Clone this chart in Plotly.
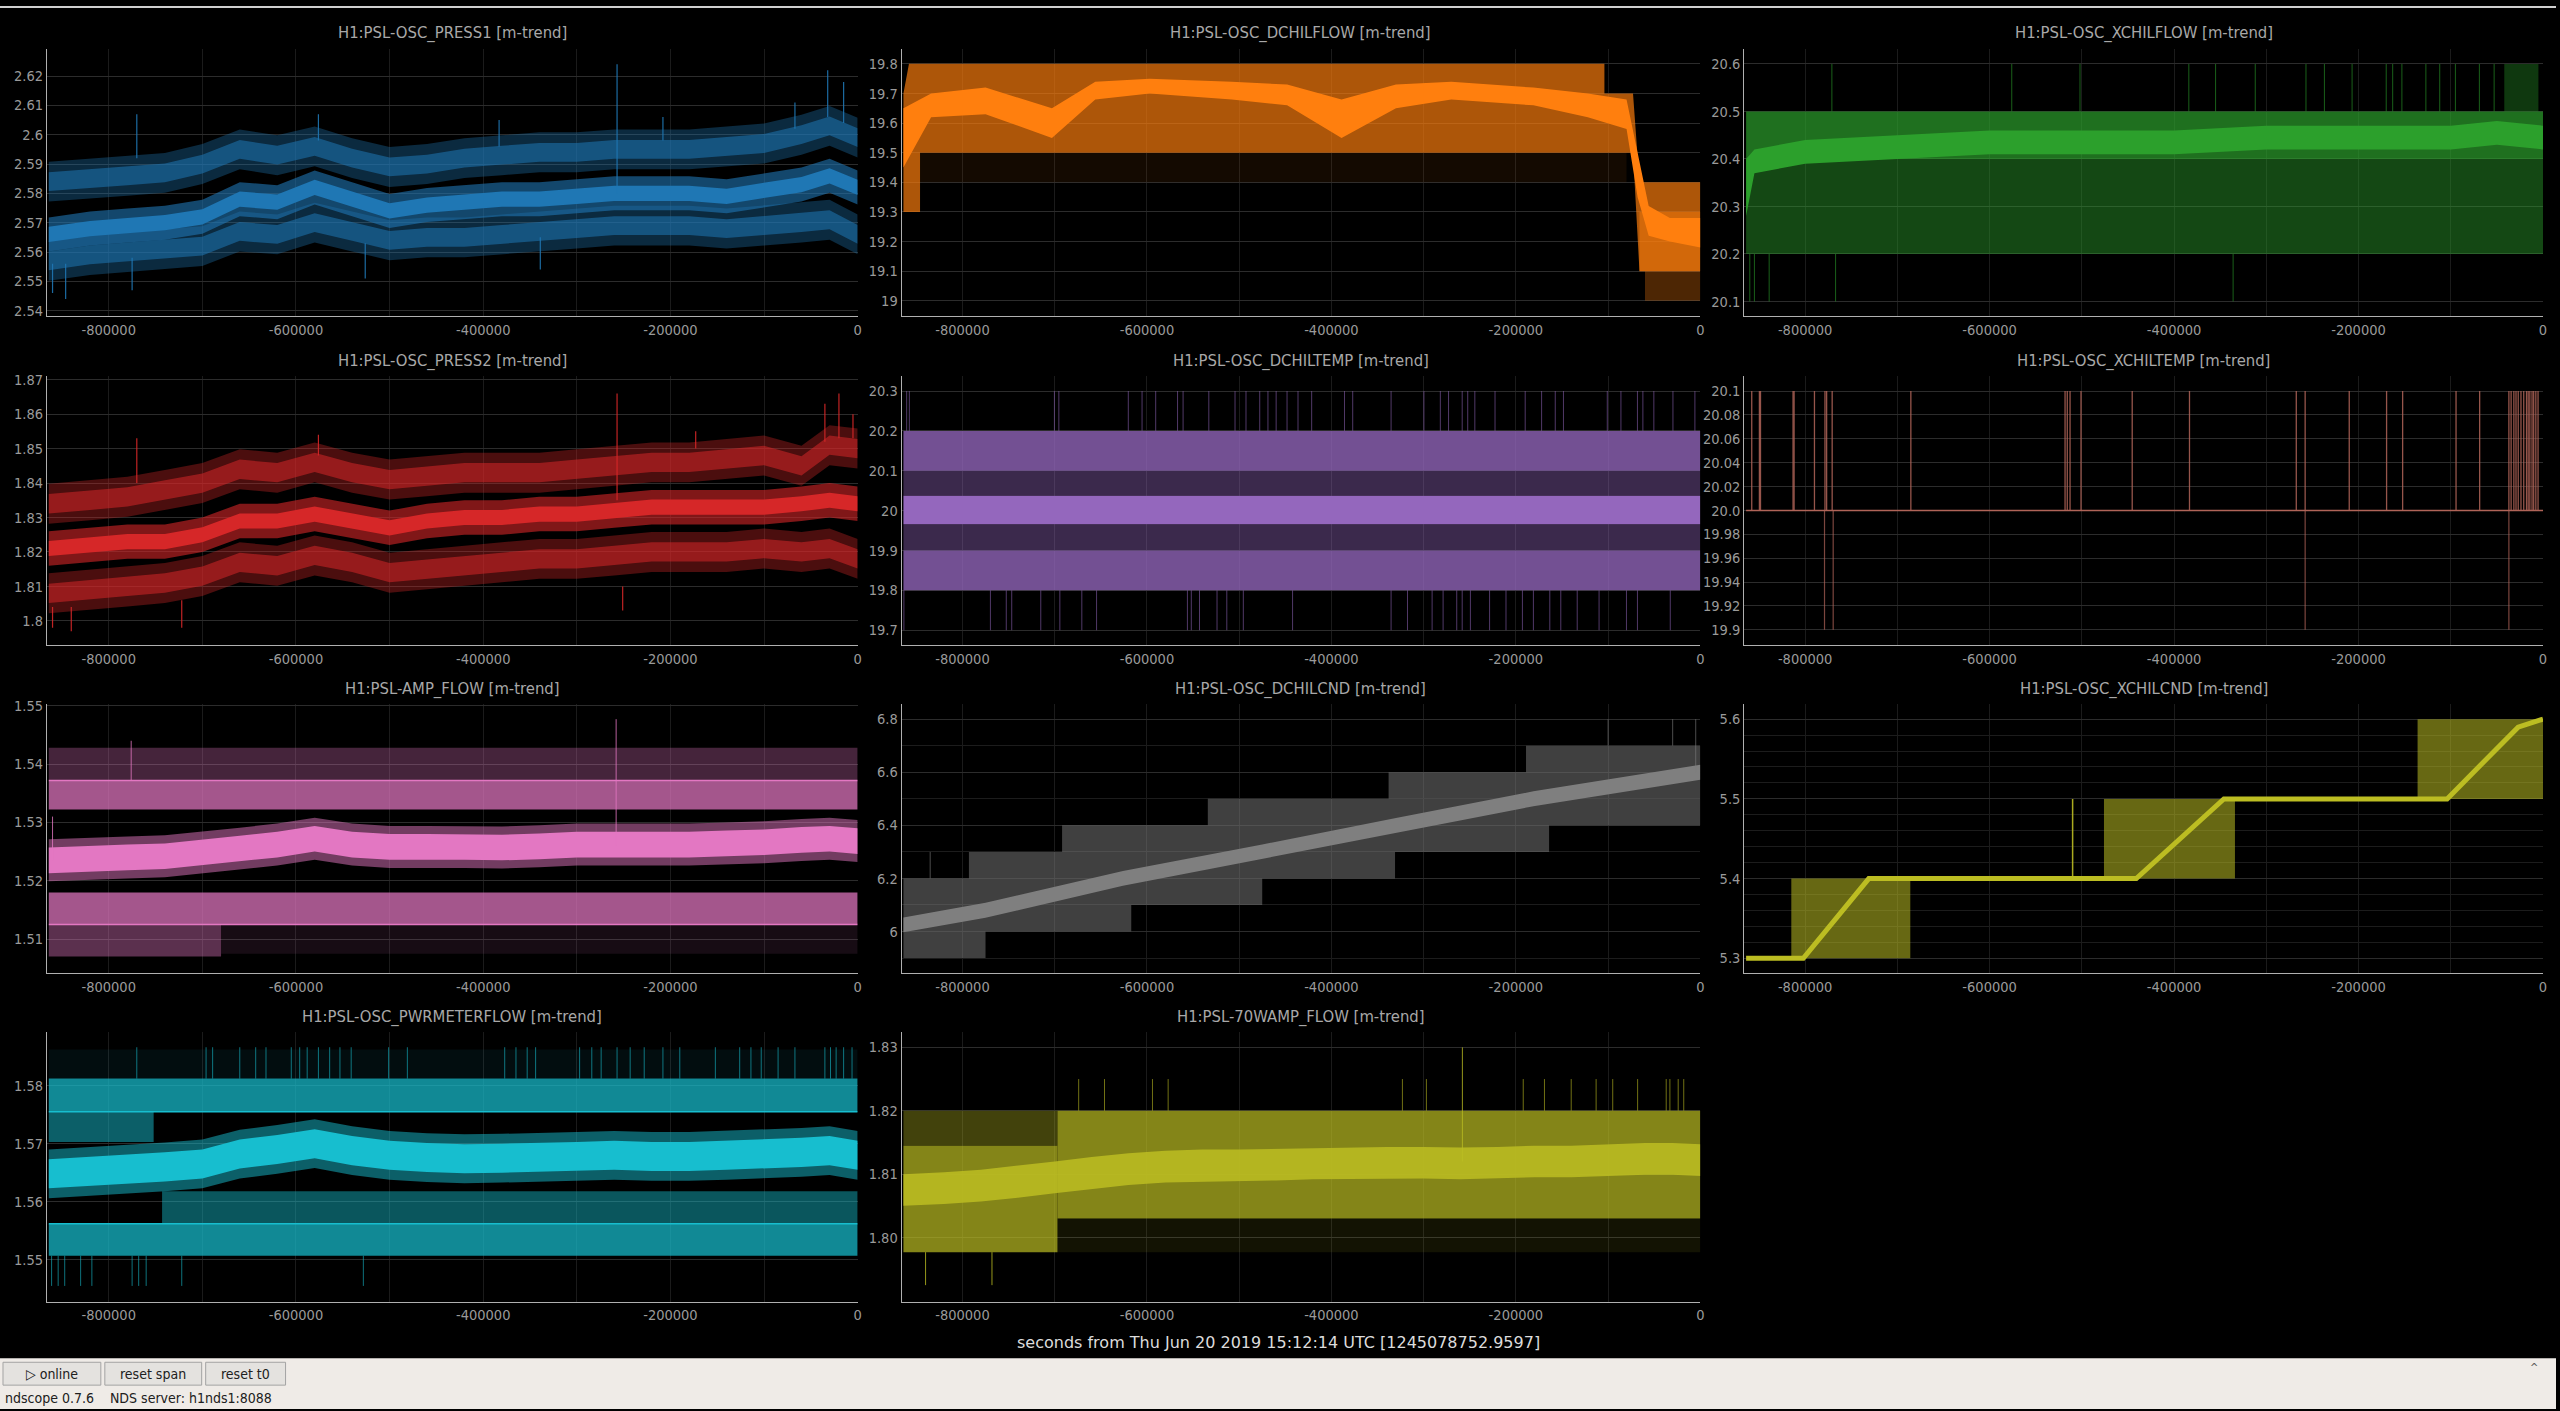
"""ndscope style m-trend overview of the H1 PSL chiller / flow channels."""

import plotly.graph_objects as go

W, H = 2560, 1411
X_START, X_END = -866000, 0

# ---------------------------------------------------------------- data
# shared time knots for the slow trends (seconds from t0)
T = [-864000, -820000, -780000, -740000, -700000, -660000, -620000, -580000,
     -540000, -500000, -460000, -420000, -380000, -340000, -300000, -260000,
     -220000, -180000, -140000, -100000, -60000, -30000, 0]

X_TICKS = [-800000, -600000, -400000, -200000, 0]
X_TICK_TEXT = ["-800000", "-600000", "-400000", "-200000", "0"]
X_MINOR = [-700000, -500000, -300000, -100000]

T0_LABEL = "seconds from Thu Jun 20 2019 15:12:14 UTC [1245078752.9597]"
STATUS = "ndscope 0.7.6    NDS server: h1nds1:8088"
BUTTONS = ["▷ online", "reset span", "reset t0"]

# H1:PSL-OSC_PRESS1
PRESS1_MAX = [2.584, 2.585, 2.586, 2.587, 2.590, 2.595, 2.593, 2.596, 2.592, 2.589, 2.590, 2.592,
              2.593, 2.594, 2.594, 2.595, 2.595, 2.595, 2.596, 2.597, 2.600, 2.603, 2.599]
PRESS1_MEAN = [2.566, 2.568, 2.569, 2.570, 2.572, 2.578, 2.577, 2.582, 2.578, 2.574, 2.576, 2.577,
               2.578, 2.578, 2.579, 2.580, 2.580, 2.580, 2.579, 2.581, 2.583, 2.586, 2.582]
PRESS1_MIN = [2.557, 2.559, 2.560, 2.561, 2.562, 2.567, 2.566, 2.570, 2.567, 2.564, 2.565, 2.565,
              2.566, 2.567, 2.568, 2.569, 2.569, 2.569, 2.568, 2.569, 2.570, 2.571, 2.566]
PRESS1_SPIKE_T = [-770000, -576000, -383000, -257000, -208000, -67000, -32000, -15000,
                  -860000, -846000, -775000, -526000, -339000]
PRESS1_SPIKE_Y0 = [2.592, 2.598, 2.596, 2.580, 2.598, 2.602, 2.606, 2.604,
                   2.556, 2.556, 2.558, 2.563, 2.565]
PRESS1_SPIKE_Y1 = [2.607, 2.607, 2.605, 2.624, 2.606, 2.611, 2.622, 2.618,
                   2.546, 2.544, 2.547, 2.551, 2.554]
PRESS1_Y = [2.54, 2.55, 2.56, 2.57, 2.58, 2.59, 2.60, 2.61, 2.62]
PRESS1_YTEXT = ["2.54", "2.55", "2.56", "2.57", "2.58", "2.59", "2.6", "2.61", "2.62"]

# H1:PSL-OSC_PRESS2
PRESS2_MAX = [1.834, 1.835, 1.836, 1.838, 1.840, 1.844, 1.843, 1.846, 1.843, 1.841, 1.842, 1.843,
              1.843, 1.843, 1.844, 1.845, 1.846, 1.846, 1.847, 1.848, 1.845, 1.851, 1.850]
PRESS2_MEAN = [1.821, 1.822, 1.823, 1.823, 1.825, 1.829, 1.829, 1.831, 1.829, 1.827, 1.829, 1.830,
               1.830, 1.831, 1.831, 1.832, 1.833, 1.833, 1.833, 1.833, 1.834, 1.835, 1.834]
PRESS2_MIN = [1.808, 1.809, 1.810, 1.811, 1.813, 1.817, 1.816, 1.819, 1.817, 1.814, 1.815, 1.816,
              1.817, 1.818, 1.818, 1.819, 1.820, 1.820, 1.820, 1.821, 1.820, 1.821, 1.818]
PRESS2_SPIKE_T = [-770000, -576000, -257000, -173000, -35000, -20000, -5000,
                  -860000, -840000, -722000, -251000]
PRESS2_SPIKE_Y0 = [1.840, 1.848, 1.835, 1.850, 1.852, 1.853, 1.853,
                   1.804, 1.804, 1.806, 1.810]
PRESS2_SPIKE_Y1 = [1.853, 1.854, 1.866, 1.855, 1.863, 1.866, 1.860,
                   1.798, 1.797, 1.798, 1.803]
PRESS2_Y = [1.80, 1.81, 1.82, 1.83, 1.84, 1.85, 1.86, 1.87]
PRESS2_YTEXT = ["1.8", "1.81", "1.82", "1.83", "1.84", "1.85", "1.86", "1.87"]

# H1:PSL-AMP_FLOW
AMPF_MEAN = [1.5235, 1.5238, 1.5240, 1.5242, 1.5248, 1.5255, 1.5262, 1.5272, 1.5262, 1.5258,
             1.5258, 1.5258, 1.5257, 1.5259, 1.5262, 1.5262, 1.5262, 1.5262, 1.5264, 1.5266,
             1.5270, 1.5272, 1.5268]
AMPF_LVL_T0 = [-864000, -864000, -864000, -864000, -680000]
AMPF_LVL_T1 = [0, 0, 0, -680000, 0]
AMPF_LVL_LO = [1.5372, 1.5322, 1.5125, 1.5070, 1.5075]
AMPF_LVL_HI = [1.5428, 1.5372, 1.5180, 1.5125, 1.5125]
AMPF_EDGES = [1.5372, 1.5125]
AMPF_SPIKE_T = [-258000, -776000, -860000]
AMPF_SPIKE_Y0 = [1.5260, 1.5372, 1.5235]
AMPF_SPIKE_Y1 = [1.5477, 1.5440, 1.5310]
AMPF_Y = [1.51, 1.52, 1.53, 1.54, 1.55]
AMPF_YTEXT = ["1.51", "1.52", "1.53", "1.54", "1.55"]

# H1:PSL-OSC_PWRMETERFLOW
PWR_MEAN = [1.5648, 1.5652, 1.5656, 1.5660, 1.5665, 1.5682, 1.5690, 1.5700, 1.5688, 1.5680,
            1.5676, 1.5674, 1.5675, 1.5676, 1.5678, 1.5680, 1.5678, 1.5678, 1.5680, 1.5682,
            1.5685, 1.5688, 1.5680]
PWR_LVL_T0 = [-864000, -864000, -864000, -743000, -864000]
PWR_LVL_T1 = [0, 0, -752000, 0, 0]
PWR_LVL_LO = [1.5812, 1.5755, 1.5703, 1.5562, 1.5507]
PWR_LVL_HI = [1.5862, 1.5812, 1.5755, 1.5618, 1.5562]
PWR_EDGES = [1.5755, 1.5562]
PWR_UP_T = [-770000, -696000, -689000, -660000, -643000, -632000, -605000, -596000, -588000,
            -576000, -564000, -553000, -541000, -501000, -481000, -377000, -365000, -353000,
            -344000, -297000, -284000, -274000, -257000, -243000, -228000, -208000, -190000,
            -152000, -126000, -114000, -103000, -85000, -67000, -35000, -29000, -23000,
            -15000, -6000]
PWR_UP_Y = [1.5812, 1.5866]
PWR_DOWN_T = [-861000, -854000, -847000, -830000, -818000, -775000, -768000, -760000,
              -722000, -528000]
PWR_DOWN_Y = [1.5507, 1.5455]
PWR_Y = [1.55, 1.56, 1.57, 1.58]
PWR_YTEXT = ["1.55", "1.56", "1.57", "1.58"]

# H1:PSL-70WAMP_FLOW
W70_MEAN = [1.8075, 1.8078, 1.8082, 1.8088, 1.8095, 1.8102, 1.8108, 1.8112, 1.8114, 1.8114,
            1.8115, 1.8117, 1.8118, 1.8118, 1.8118, 1.8117, 1.8118, 1.8120, 1.8120, 1.8122,
            1.8124, 1.8124, 1.8122]
W70_LVL_T0 = [-864000, -864000, -697000, -697000]
W70_LVL_T1 = [-697000, -697000, 0, 0]
W70_LVL_LO = [1.8145, 1.7977, 1.8030, 1.7977]
W70_LVL_HI = [1.8200, 1.8145, 1.8200, 1.8030]
W70_UP_T = [-674000, -646000, -594000, -577000, -323000, -297000, -192000, -169000,
            -140000, -113000, -95000, -68000, -37000, -33000, -24000, -18000]
W70_UP_Y = [1.8200, 1.8250]
W70_BIG_T = [-258000, -840000, -768000]
W70_BIG_Y0 = [1.8120, 1.7977, 1.7977]
W70_BIG_Y1 = [1.8300, 1.7925, 1.7925]
W70_Y = [1.80, 1.81, 1.82, 1.83]
W70_YTEXT = ["1.80", "1.81", "1.82", "1.83"]

# H1:PSL-OSC_DCHILFLOW
DFLOW_ENV_T = [-864000, -858000, -846000, -846000, -104000, -104000, -73000, -66000, -60000, 0]
DFLOW_ENV_HI = [19.7, 19.8, 19.8, 19.8, 19.8, 19.7, 19.7, 19.4, 19.4, 19.4]
DFLOW_ENV_LO = [19.3, 19.3, 19.3, 19.5, 19.5, 19.5, 19.5, 19.1, 19.1, 19.1]
DFLOW_SPARSE_T0 = [-864000, -60000, -66000]
DFLOW_SPARSE_T1 = [-80000, 0, 0]
DFLOW_SPARSE_LO = [19.4, 19.0, 19.1]
DFLOW_SPARSE_HI = [19.5, 19.1, 19.3]
DFLOW_MEAN_T = [-864000, -834000, -775000, -703000, -656000, -597000, -508000, -448000, -389000,
                -330000, -270000, -181000, -122000, -80000, -68000, -56000, -33000, 0]
DFLOW_MEAN_LO = [19.45, 19.62, 19.63, 19.55, 19.68, 19.70, 19.68, 19.66, 19.55,
                 19.65, 19.68, 19.66, 19.62, 19.58, 19.35, 19.22, 19.20, 19.18]
DFLOW_MEAN_HI = [19.65, 19.70, 19.72, 19.65, 19.74, 19.75, 19.74, 19.73, 19.68,
                 19.73, 19.74, 19.72, 19.70, 19.68, 19.50, 19.32, 19.28, 19.28]
DFLOW_Y = [19.0, 19.1, 19.2, 19.3, 19.4, 19.5, 19.6, 19.7, 19.8]
DFLOW_YTEXT = ["19", "19.1", "19.2", "19.3", "19.4", "19.5", "19.6", "19.7", "19.8"]

# H1:PSL-OSC_XCHILFLOW
XFLOW_LVL_T0 = [-864000, -864000, -42000]
XFLOW_LVL_T1 = [0, 0, -5000]
XFLOW_LVL_LO = [20.2, 20.4, 20.5]
XFLOW_LVL_HI = [20.4, 20.5, 20.6]
XFLOW_MEAN_T = [-864000, -855000, -800000, -700000, -600000, -500000, -400000, -300000,
                -200000, -100000, -50000, 0]
XFLOW_MEAN_LO = [20.28, 20.37, 20.39, 20.40, 20.41, 20.41, 20.41, 20.42, 20.42, 20.42, 20.43, 20.42]
XFLOW_MEAN_HI = [20.40, 20.42, 20.44, 20.45, 20.46, 20.46, 20.46, 20.47, 20.47, 20.47, 20.48, 20.47]
XFLOW_UP_T = [-771000, -576000, -502000, -384000, -355000, -312000, -257000, -237000, -207000,
              -170000, -163000, -153000, -127000, -112000, -95000, -69000, -53000]
XFLOW_UP_Y = [20.5, 20.6]
XFLOW_DOWN_T = [-860000, -855000, -839000, -767000, -336000]
XFLOW_DOWN_Y = [20.2, 20.1]
XFLOW_Y = [20.1, 20.2, 20.3, 20.4, 20.5, 20.6]
XFLOW_YTEXT = ["20.1", "20.2", "20.3", "20.4", "20.5", "20.6"]

# H1:PSL-OSC_DCHILTEMP
DTEMP_LVL_LO = [20.1, 20.037, 19.966, 19.9, 19.8]
DTEMP_LVL_HI = [20.2, 20.1, 20.037, 19.966, 19.9]
DTEMP_SPAN = [-864000, 0]
DTEMP_UP_T = [-860500, -857600, -700300, -695500, -620200, -605300, -590500, -566800, -560800,
              -532900, -504500, -492600, -477700, -468800, -459900, -448100, -436200, -421400,
              -385800, -376900, -335300, -299700, -281900, -273000, -258200, -252200, -244500,
              -222600, -189900, -172100, -157300, -148400, -100900, -86100, -68200, -62300,
              -50400, -29700, -5900]
DTEMP_UP_Y = [20.2, 20.3]
DTEMP_DOWN_T = [-863500, -769700, -752500, -746600, -715100, -694400, -670600, -654600, -556100,
                -551900, -543000, -524000, -513400, -495500, -442100, -335300, -317500, -290800,
                -278900, -264100, -258200, -249300, -228500, -210700, -192900, -181000, -163200,
                -151300, -133500, -109800, -80100, -68200, -32600]
DTEMP_DOWN_Y = [19.8, 19.7]
DTEMP_Y = [19.7, 19.8, 19.9, 20.0, 20.1, 20.2, 20.3]
DTEMP_YTEXT = ["19.7", "19.8", "19.9", "20", "20.1", "20.2", "20.3"]

# H1:PSL-OSC_XCHILTEMP
XTEMP_BASE_T = [-864000, 0]
XTEMP_BASE = [20.0, 20.0]
XTEMP_UP_T = [-857900, -849600, -848400, -813100, -812000, -789900, -778500, -776700, -770700,
              -685400, -518200, -515800, -512800, -500900, -445400, -383300, -267500, -257900,
              -210100, -169600, -152200, -94300, -68700, -37000, -34600, -31600, -29300,
              -26900, -23900, -20900, -17900, -16100, -14300, -11900, -10100, -7800, -5400]
XTEMP_UP_Y = [20.0, 20.1]
XTEMP_DOWN_T = [-779000, -769600, -257900, -37000]
XTEMP_DOWN_Y = [20.0, 19.9]
XTEMP_Y = [19.90, 19.92, 19.94, 19.96, 19.98, 20.00, 20.02, 20.04, 20.06, 20.08, 20.10]
XTEMP_YTEXT = ["19.9", "19.92", "19.94", "19.96", "19.98", "20.0",
               "20.02", "20.04", "20.06", "20.08", "20.1"]

# H1:PSL-OSC_DCHILCND
DCND_BAND_T0 = [-864000, -864000, -864000, -793000, -692000, -534000, -338000, -189000]
DCND_BAND_T1 = [-775000, -617000, -475000, -331000, -164000, 0, 0, 0]
DCND_BAND_LO = [5.9, 6.0, 6.1, 6.2, 6.3, 6.4, 6.5, 6.6]
DCND_BAND_HI = [6.0, 6.1, 6.2, 6.3, 6.4, 6.5, 6.6, 6.7]
DCND_MEAN_T = [-864000, -775000, -626000, -475000, -330000, -181000, 0]
DCND_MEAN = [6.025, 6.08, 6.20, 6.30, 6.40, 6.50, 6.60]
DCND_SPIKE_T = [-835000, -100000, -30000, -5000]
DCND_SPIKE_Y0 = [6.2, 6.7, 6.7, 6.6]
DCND_SPIKE_Y1 = [6.3, 6.8, 6.8, 6.8]
DCND_Y = [6.0, 6.2, 6.4, 6.6, 6.8]
DCND_YTEXT = ["6", "6.2", "6.4", "6.6", "6.8"]
DCND_YMINOR = [5.9, 6.1, 6.3, 6.5, 6.7]

# H1:PSL-OSC_XCHILCND
XCND_MEAN_T = [-864000, -802000, -731000, -441000, -346000, -104000, -27000, 0]
XCND_MEAN = [5.30, 5.30, 5.40, 5.40, 5.50, 5.50, 5.59, 5.60]
XCND_BLOCK_T0 = [-815000, -476000, -136000]
XCND_BLOCK_T1 = [-686000, -334000, 0]
XCND_BLOCK_LO = [5.3, 5.4, 5.5]
XCND_BLOCK_HI = [5.4, 5.5, 5.6]
XCND_SPIKE_T = [-510000]
XCND_SPIKE_Y0 = [5.4]
XCND_SPIKE_Y1 = [5.5]
XCND_Y = [5.3, 5.4, 5.5, 5.6]
XCND_YTEXT = ["5.3", "5.4", "5.5", "5.6"]
XCND_YMINOR = [5.32, 5.34, 5.36, 5.38, 5.42, 5.44, 5.46, 5.48, 5.52, 5.54, 5.56, 5.58]

# ---------------------------------------------------------------- style
BLUE = (31, 119, 180)
ORANGE = (255, 127, 14)
GREEN = (44, 160, 44)
RED = (214, 39, 40)
PURPLE = (148, 103, 189)
BROWN = (176, 100, 88)
PINK = (227, 119, 194)
GRAY = (127, 127, 127)
OLIVE = (188, 189, 34)
CYAN = (23, 190, 207)

COL_PX = [(47, 859), (903, 1703), (1747, 2547)]
ROW_PX = [(43, 312), (372, 643), (702, 973), (1032, 1303)]
TITLE_PX = [27, 357, 687, 1017]

FONT = "DejaVu Sans Condensed, DejaVu Sans, sans-serif"
TICKFONT = dict(family=FONT, size=14.5, color="#9a9a9a")
GRID_X = "#1b1b1b"
GRID_Y = "#2c2c2c"
AXIS = "#b0b0b0"

fig = go.Figure()
layout_axes = {}
annotations = []


def rgba(c, a):
    return f"rgba({c[0]},{c[1]},{c[2]},{a})"


def ax_ids(n):
    s = "" if n == 1 else str(n)
    return "x" + s, "y" + s


def band(n, t, lo, hi, color, alpha):
    xa, ya = ax_ids(n)
    fig.add_trace(go.Scatter(
        x=list(t) + list(t)[::-1], y=list(hi) + list(lo)[::-1],
        fill="toself", fillcolor=rgba(color, alpha), mode="lines",
        line=dict(width=0), hoverinfo="skip", showlegend=False, xaxis=xa, yaxis=ya))


def spread(n, t, center, half, color, alpha):
    band(n, t, [c - half for c in center], [c + half for c in center], color, alpha)


def levels(n, t0s, t1s, los, his, color, alphas):
    for t0, t1, lo, hi, a in zip(t0s, t1s, los, his, alphas):
        band(n, [t0, t1], [lo, lo], [hi, hi], color, a)


def spikes(n, ts, y0s, y1s, color, alpha, width=1.0):
    xa, ya = ax_ids(n)
    xs, ys = [], []
    for t, a, b in zip(ts, y0s, y1s):
        xs += [t, t, None]
        ys += [a, b, None]
    fig.add_trace(go.Scatter(x=xs, y=ys, mode="lines",
                             line=dict(color=rgba(color, alpha), width=width),
                             hoverinfo="skip", showlegend=False, xaxis=xa, yaxis=ya))


def line(n, t, y, color, alpha, width):
    xa, ya = ax_ids(n)
    fig.add_trace(go.Scatter(x=t, y=y, mode="lines",
                             line=dict(color=rgba(color, alpha), width=width),
                             hoverinfo="skip", showlegend=False, xaxis=xa, yaxis=ya))


def panel(n, col, row, title, yrange, yticks, ytext, yminor=None):
    x0, x1 = COL_PX[col]
    y0, y1 = ROW_PX[row]
    s = "" if n == 1 else str(n)
    layout_axes["xaxis" + s] = dict(
        domain=[x0 / W, x1 / W], range=[X_START, X_END], anchor="y" + s,
        tickmode="array", tickvals=X_TICKS, ticktext=X_TICK_TEXT,
        minor=dict(tickmode="array", tickvals=X_MINOR, showgrid=True, gridcolor=GRID_X, ticks=""),
        showgrid=True, gridcolor=GRID_X, showline=True, linecolor=AXIS, linewidth=1,
        zeroline=False, ticks="", tickfont=TICKFONT, fixedrange=True)
    ya = dict(
        domain=[1 - y1 / H, 1 - y0 / H], range=yrange, anchor="x" + s,
        tickmode="array", tickvals=yticks, ticktext=ytext,
        showgrid=True, gridcolor=GRID_Y, showline=True, linecolor=AXIS, linewidth=1,
        zeroline=False, ticks="", tickfont=TICKFONT, fixedrange=True)
    if yminor:
        ya["minor"] = dict(tickmode="array", tickvals=yminor, showgrid=True,
                           gridcolor="#1c1c1c", ticks="")
    layout_axes["yaxis" + s] = ya
    annotations.append(dict(
        text=title, x=(x0 + x1) / 2 / W, y=1 - TITLE_PX[row] / H, xref="paper", yref="paper",
        xanchor="center", yanchor="middle", showarrow=False,
        font=dict(family=FONT, size=16.5, color="#a8a8a8")))


# ---------------------------------------------------------------- panels
# 1 PRESS1
panel(1, 0, 0, "H1:PSL-OSC_PRESS1 [m-trend]", [2.5381, 2.6293], PRESS1_Y, PRESS1_YTEXT)
for series in (PRESS1_MAX, PRESS1_MIN):
    spread(1, T, series, 0.0068, BLUE, 0.35)
    spread(1, T, series, 0.0032, BLUE, 0.55)
spread(1, T, PRESS1_MEAN, 0.0058, BLUE, 0.6)
spread(1, T, PRESS1_MEAN, 0.0026, BLUE, 1.0)
spikes(1, PRESS1_SPIKE_T, PRESS1_SPIKE_Y0, PRESS1_SPIKE_Y1, BLUE, 0.9, 1.2)

# 2 DCHILFLOW
panel(2, 1, 0, "H1:PSL-OSC_DCHILFLOW [m-trend]", [18.948, 19.851], DFLOW_Y, DFLOW_YTEXT)
levels(2, DFLOW_SPARSE_T0, DFLOW_SPARSE_T1, DFLOW_SPARSE_LO, DFLOW_SPARSE_HI, ORANGE,
       [0.08, 0.3, 0.45])
band(2, DFLOW_ENV_T, DFLOW_ENV_LO, DFLOW_ENV_HI, ORANGE, 0.68)
band(2, DFLOW_MEAN_T, DFLOW_MEAN_LO, DFLOW_MEAN_HI, ORANGE, 1.0)

# 3 XCHILFLOW
panel(3, 2, 0, "H1:PSL-OSC_XCHILFLOW [m-trend]", [20.069, 20.632], XFLOW_Y, XFLOW_YTEXT)
levels(3, XFLOW_LVL_T0, XFLOW_LVL_T1, XFLOW_LVL_LO, XFLOW_LVL_HI, GREEN, [0.45, 0.7, 0.35])
band(3, XFLOW_MEAN_T, XFLOW_MEAN_LO, XFLOW_MEAN_HI, GREEN, 1.0)
spikes(3, XFLOW_UP_T, [XFLOW_UP_Y[0]] * len(XFLOW_UP_T), [XFLOW_UP_Y[1]] * len(XFLOW_UP_T),
       GREEN, 0.6)
spikes(3, XFLOW_DOWN_T, [XFLOW_DOWN_Y[0]] * len(XFLOW_DOWN_T),
       [XFLOW_DOWN_Y[1]] * len(XFLOW_DOWN_T), GREEN, 0.6)

# 4 PRESS2
panel(4, 0, 1, "H1:PSL-OSC_PRESS2 [m-trend]", [1.7929, 1.8711], PRESS2_Y, PRESS2_YTEXT)
for series in (PRESS2_MAX, PRESS2_MIN):
    spread(4, T, series, 0.0058, RED, 0.35)
    spread(4, T, series, 0.0028, RED, 0.55)
spread(4, T, PRESS2_MEAN, 0.005, RED, 0.6)
spread(4, T, PRESS2_MEAN, 0.0022, RED, 1.0)
spikes(4, PRESS2_SPIKE_T, PRESS2_SPIKE_Y0, PRESS2_SPIKE_Y1, RED, 0.9, 1.2)

# 5 DCHILTEMP
panel(5, 1, 1, "H1:PSL-OSC_DCHILTEMP [m-trend]", [19.662, 20.338], DTEMP_Y, DTEMP_YTEXT)
levels(5, [DTEMP_SPAN[0]] * 5, [DTEMP_SPAN[1]] * 5, DTEMP_LVL_LO, DTEMP_LVL_HI, PURPLE,
       [0.78, 0.4, 1.0, 0.4, 0.78])
spikes(5, DTEMP_UP_T, [DTEMP_UP_Y[0]] * len(DTEMP_UP_T), [DTEMP_UP_Y[1]] * len(DTEMP_UP_T),
       PURPLE, 0.55)
spikes(5, DTEMP_DOWN_T, [DTEMP_DOWN_Y[0]] * len(DTEMP_DOWN_T),
       [DTEMP_DOWN_Y[1]] * len(DTEMP_DOWN_T), PURPLE, 0.55)

# 6 XCHILTEMP
panel(6, 2, 1, "H1:PSL-OSC_XCHILTEMP [m-trend]", [19.887, 20.1127], XTEMP_Y, XTEMP_YTEXT)
spikes(6, XTEMP_UP_T, [XTEMP_UP_Y[0]] * len(XTEMP_UP_T), [XTEMP_UP_Y[1]] * len(XTEMP_UP_T),
       BROWN, 0.85, 1.3)
spikes(6, XTEMP_DOWN_T, [XTEMP_DOWN_Y[0]] * len(XTEMP_DOWN_T),
       [XTEMP_DOWN_Y[1]] * len(XTEMP_DOWN_T), BROWN, 0.7, 1.2)
line(6, XTEMP_BASE_T, XTEMP_BASE, BROWN, 1.0, 1.6)

# 7 AMP_FLOW
panel(7, 0, 2, "H1:PSL-AMP_FLOW [m-trend]", [1.5041, 1.5503], AMPF_Y, AMPF_YTEXT)
levels(7, AMPF_LVL_T0, AMPF_LVL_T1, AMPF_LVL_LO, AMPF_LVL_HI, PINK, [0.3, 0.72, 0.72, 0.4, 0.1])
for y in AMPF_EDGES:
    line(7, [T[0], T[-1]], [y, y], PINK, 1.0, 1.5)
spread(7, T, AMPF_MEAN, 0.0036, PINK, 0.5)
spread(7, T, AMPF_MEAN, 0.0022, PINK, 1.0)
spikes(7, AMPF_SPIKE_T, AMPF_SPIKE_Y0, AMPF_SPIKE_Y1, PINK, 0.8)

# 8 DCHILCND
panel(8, 1, 2, "H1:PSL-OSC_DCHILCND [m-trend]", [5.842, 6.857], DCND_Y, DCND_YTEXT, DCND_YMINOR)
levels(8, DCND_BAND_T0, DCND_BAND_T1, DCND_BAND_LO, DCND_BAND_HI, GRAY, [0.5] * 8)
spread(8, DCND_MEAN_T, DCND_MEAN, 0.028, GRAY, 1.0)
spikes(8, DCND_SPIKE_T, DCND_SPIKE_Y0, DCND_SPIKE_Y1, GRAY, 0.6)

# 9 XCHILCND
panel(9, 2, 2, "H1:PSL-OSC_XCHILCND [m-trend]", [5.281, 5.619], XCND_Y, XCND_YTEXT, XCND_YMINOR)
levels(9, XCND_BLOCK_T0, XCND_BLOCK_T1, XCND_BLOCK_LO, XCND_BLOCK_HI, OLIVE, [0.55] * 3)
line(9, XCND_MEAN_T, XCND_MEAN, OLIVE, 1.0, 5)
spikes(9, XCND_SPIKE_T, XCND_SPIKE_Y0, XCND_SPIKE_Y1, OLIVE, 0.9, 1.5)

# 10 PWRMETERFLOW
panel(10, 0, 3, "H1:PSL-OSC_PWRMETERFLOW [m-trend]", [1.5428, 1.5892], PWR_Y, PWR_YTEXT)
levels(10, PWR_LVL_T0, PWR_LVL_T1, PWR_LVL_LO, PWR_LVL_HI, CYAN, [0.07, 0.72, 0.5, 0.45, 0.72])
for y in PWR_EDGES:
    line(10, [T[0], T[-1]], [y, y], CYAN, 1.0, 1.5)
spikes(10, PWR_UP_T, [PWR_UP_Y[0]] * len(PWR_UP_T), [PWR_UP_Y[1]] * len(PWR_UP_T), CYAN, 0.6)
spikes(10, PWR_DOWN_T, [PWR_DOWN_Y[0]] * len(PWR_DOWN_T), [PWR_DOWN_Y[1]] * len(PWR_DOWN_T),
       CYAN, 0.6)
spread(10, T, PWR_MEAN, 0.0042, CYAN, 0.5)
spread(10, T, PWR_MEAN, 0.0025, CYAN, 1.0)

# 11 70WAMP_FLOW
panel(11, 1, 3, "H1:PSL-70WAMP_FLOW [m-trend]", [1.7899, 1.8324], W70_Y, W70_YTEXT)
levels(11, W70_LVL_T0, W70_LVL_T1, W70_LVL_LO, W70_LVL_HI, OLIVE, [0.35, 0.7, 0.7, 0.1])
spikes(11, W70_UP_T, [W70_UP_Y[0]] * len(W70_UP_T), [W70_UP_Y[1]] * len(W70_UP_T), OLIVE, 0.6)
spikes(11, W70_BIG_T, W70_BIG_Y0, W70_BIG_Y1, OLIVE, 0.8)
spread(11, T, W70_MEAN, 0.0025, OLIVE, 0.85)

# ---------------------------------------------------------------- chrome
shapes = [
    dict(type="rect", xref="paper", yref="paper", x0=0, x1=1, y0=1 - 2 / H, y1=1,
         fillcolor="#cfcfcf", line=dict(width=0), layer="above"),
    dict(type="rect", xref="paper", yref="paper", x0=0, x1=1, y0=0, y1=1 - 1360 / H,
         fillcolor="#efebe7", line=dict(width=0), layer="above"),
]
button_px = [(3, 101), (105, 202), (206, 286)]
for (bx0, bx1), label in zip(button_px, BUTTONS):
    shapes.append(dict(type="rect", xref="paper", yref="paper", x0=bx0 / W, x1=bx1 / W,
                       y0=1 - 1387 / H, y1=1 - 1364 / H, fillcolor="#e4e2df",
                       line=dict(color="#a3a3a3", width=1), layer="above"))
    annotations.append(dict(text=label, x=(bx0 + bx1) / 2 / W, y=1 - 1375.5 / H,
                            xref="paper", yref="paper", showarrow=False,
                            xanchor="center", yanchor="middle",
                            font=dict(family=FONT, size=14, color="#202020")))
annotations.append(dict(text=STATUS.replace(" ", "&nbsp;"), x=3 / W, y=1 - 1400 / H,
                        xref="paper", yref="paper", showarrow=False, xanchor="left",
                        yanchor="middle", font=dict(family=FONT, size=14, color="#202020")))
annotations.append(dict(text="^", x=2544 / W, y=1 - 1378 / H, xref="paper", yref="paper",
                        showarrow=False, font=dict(family=FONT, size=11, color="#555555")))
annotations.append(dict(text=T0_LABEL, x=0.5, y=1 - 1344 / H, xref="paper", yref="paper",
                        showarrow=False, xanchor="center", yanchor="middle",
                        font=dict(family="DejaVu Sans, sans-serif", size=16, color="#dcdcdc")))

fig.update_layout(
    width=W, height=H, margin=dict(l=0, r=0, t=0, b=0),
    paper_bgcolor="#000000", plot_bgcolor="#000000",
    showlegend=False, shapes=shapes, annotations=annotations,
    **layout_axes,
)

fig.write_html("out.html", config={"displayModeBar": False},
               post_script="document.body.style.margin='0';document.body.style.background='#000';")
